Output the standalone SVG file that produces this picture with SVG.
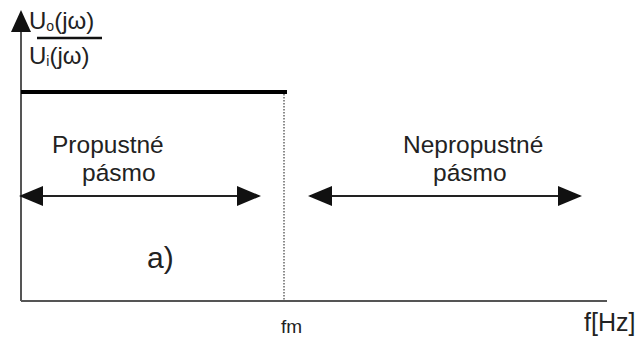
<svg xmlns="http://www.w3.org/2000/svg" width="643" height="338" viewBox="0 0 643 338">
<style>
text{font-family:"Liberation Sans",Arial,sans-serif;fill:#222}
.lbl{font-size:24.5px}
.ax{stroke:#555;stroke-width:2;fill:none}
.arr{stroke:#222;stroke-width:2;fill:none}
</style>
<defs>
<marker id="ah" viewBox="0 0 24 20" refX="22" refY="10" markerWidth="24" markerHeight="20" markerUnits="userSpaceOnUse" orient="auto-start-reverse">
<path d="M0,0 L24,10 L0,20 z" fill="#111"/>
</marker>
</defs>
<rect width="643" height="338" fill="#fff"/>
<g id="axes">
<line class="ax" x1="21" y1="301" x2="21" y2="14"/>
<path d="M21,10 L31,32 L11,32 z" fill="#111"/>
<line class="ax" x1="21" y1="301" x2="607" y2="301"/>
</g>
<g id="ylabel">
<text x="29" y="29" font-size="24">U<tspan font-size="14" dy="2">o</tspan><tspan dy="-2">(jω)</tspan></text>
<line x1="37" y1="38" x2="102" y2="38" stroke="#111" stroke-width="2.5"/>
<text x="29" y="64" font-size="24">U<tspan font-size="14" dy="2">i</tspan><tspan dy="-2">(jω)</tspan></text>
</g>
<g id="passband">
<line x1="21" y1="92" x2="287" y2="92" stroke="#000" stroke-width="4"/>
<line x1="284" y1="94" x2="284" y2="300" stroke="#666" stroke-width="1.5" stroke-dasharray="1.5,1.5"/>
</g>
<g id="connectors">
<line class="arr" x1="21" y1="196" x2="259" y2="196" marker-start="url(#ah)" marker-end="url(#ah)"/>
<line class="arr" x1="310" y1="196" x2="580" y2="196" marker-start="url(#ah)" marker-end="url(#ah)"/>
</g>
<g id="propustne">
<text class="lbl" x="52" y="153">Propustné</text>
<text class="lbl" x="82" y="181">pásmo</text>
</g>
<g id="nepropustne">
<text class="lbl" x="403" y="153">Nepropustné</text>
<text class="lbl" x="433" y="181">pásmo</text>
</g>
<text x="147" y="268" font-size="30">a)</text>
<text x="281" y="333" font-size="19">fm</text>
<text x="584" y="331" font-size="25">f[Hz]</text>
</svg>
